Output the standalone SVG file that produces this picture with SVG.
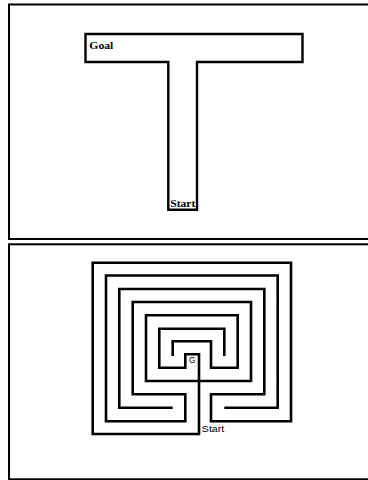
<svg xmlns="http://www.w3.org/2000/svg" width="368" height="480" viewBox="0 0 368 480">
<style>
.frame{fill:none;stroke:#000;stroke-width:2}
.wall{fill:none;stroke:#000;stroke-width:2.6;stroke-linejoin:miter;stroke-linecap:butt}
.twall{fill:#fff;stroke:#000;stroke-width:2.4}
.serif{font-family:"Liberation Serif","Times New Roman",serif;font-weight:bold;fill:#000}
.sans{font-family:"Liberation Sans",Arial,sans-serif;fill:#000}
</style>
<rect width="368" height="480" fill="#fff"/>
<g id="panel-top">
  <rect class="frame" x="9" y="4.5" width="400" height="234.5"/>
  <g id="t-maze">
    <path class="twall" d="M85.5,34 H302.5 V62 H197 V209.8 H168.3 V62 H85.5 Z"/>
  </g>
  <g id="goal-label">
    <text class="serif" x="89.3" y="49.3" font-size="9.5" textLength="24" lengthAdjust="spacingAndGlyphs">Goal</text>
  </g>
  <g id="start-label-top">
    <text class="serif" x="170.3" y="206.8" font-size="9.5" textLength="25" lengthAdjust="spacingAndGlyphs">Start</text>
  </g>
</g>
<g id="panel-bottom">
  <rect class="frame" x="9" y="244.3" width="400" height="235"/>
  <g id="labyrinth">
    <path class="wall" d="M224.3,356 V328.7 H159.3 V367.7 H185.3 V354.3 H199 V434 H92.7 V262.7 H291 V421.3 H211 V394.3 H264.3 V289 H119.3 V407.7 H172.7"/>
    <path class="wall" d="M172.7,356 V341.3 H211 V367.7 H237.7 V315.3 H146 V381 H251 V302 H132.7 V394.3 H185.3 V421.3 H106 V275.5 H277.7 V407.7 H224.3"/>
  </g>
  <g id="g-label">
    <text class="sans" x="192.3" y="363.4" font-size="8.3" text-anchor="middle">G</text>
  </g>
  <g id="start-label-bottom">
    <text class="sans" x="201.8" y="431.8" font-size="9" textLength="22.5" lengthAdjust="spacingAndGlyphs">Start</text>
  </g>
</g>
</svg>
